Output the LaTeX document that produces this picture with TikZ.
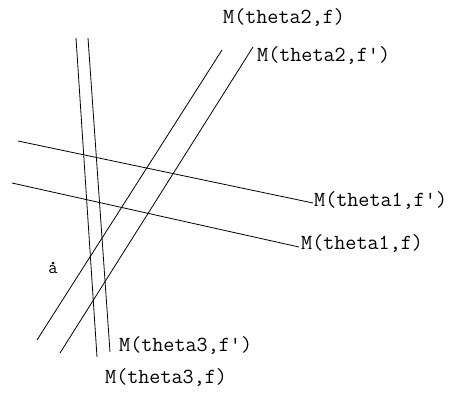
\documentclass[tikz,border=0pt]{standalone}
\usetikzlibrary{positioning}

\begin{document}
\begin{tikzpicture}[x=1pt,y=-1pt,
    mline/.style={draw=black, line width=0.8pt},
    mlabel/.style={font=\ttfamily\fontsize{21.5}{23}\selectfont, inner sep=0pt, anchor=west}]
    \useasboundingbox[fill=white] (0,0) rectangle (454,394);

    % end points of the six lines
    \coordinate (t1f-a) at (12,183);   \coordinate (t1f-b) at (299,247);
    \coordinate (t1g-a) at (18,141);   \coordinate (t1g-b) at (313,203);
    \coordinate (t2f-a) at (37,340);   \coordinate (t2f-b) at (222,50);
    \coordinate (t2g-a) at (60,353);   \coordinate (t2g-b) at (253,47);
    \coordinate (t3f-a) at (76,38);    \coordinate (t3f-b) at (97,357);
    \coordinate (t3g-a) at (88,38);    \coordinate (t3g-b) at (110,352);

    \draw[mline] (t1f-a) -- (t1f-b);
    \draw[mline] (t1g-a) -- (t1g-b);
    \draw[mline] (t2f-a) -- (t2f-b);
    \draw[mline] (t2g-a) -- (t2g-b);
    \draw[mline] (t3f-a) -- (t3f-b);
    \draw[mline] (t3g-a) -- (t3g-b);

    % labels
    \node[mlabel] (l1f) at (301,244) {M(theta1,f)};
    \node[mlabel] (l1g) at (314,201) {M(theta1,f')};
    \node[mlabel] (l2f) at (223,18) {M(theta2,f)};
    \node[mlabel] (l2g) at (257,56) {M(theta2,f')};
    \node[mlabel] (l3f) at (105,378) {M(theta3,f)};
    \node[mlabel] (l3g) at (119,346) {M(theta3,f')};

    % the point a
    \fill (53,263) circle (1.5) coordinate (pa);
    \node[font=\ttfamily\fontsize{18}{19}\selectfont, inner sep=0pt, below=2pt of pa] (la) {a};
\end{tikzpicture}
\end{document}
